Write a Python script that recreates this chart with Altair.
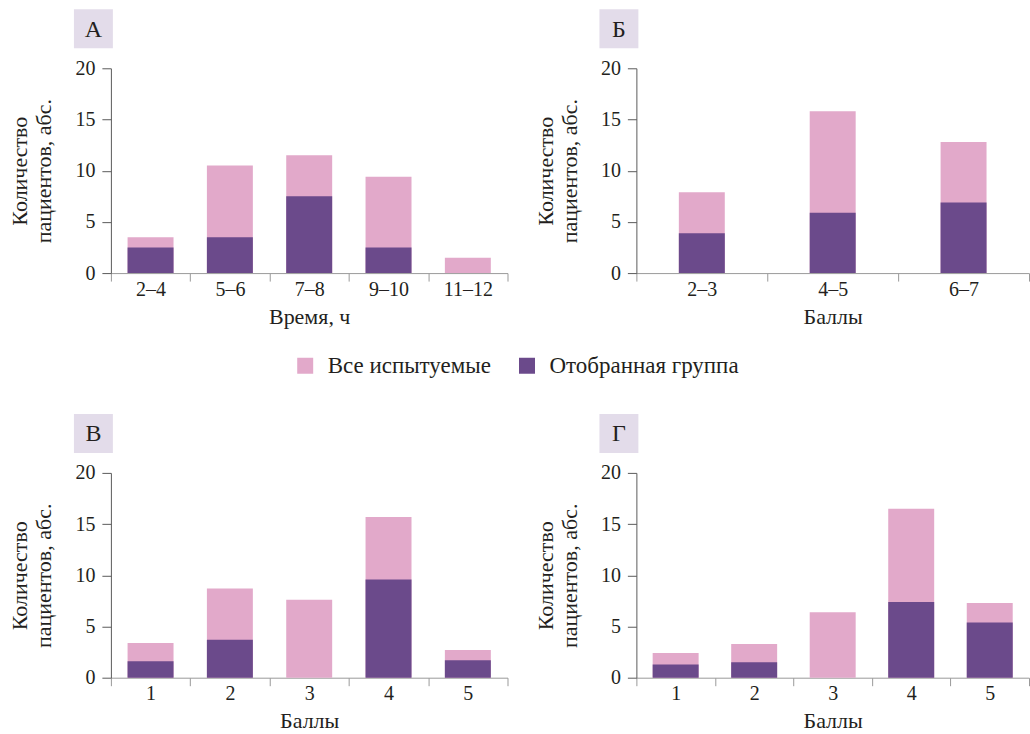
import altair as alt
import pandas as pd

FONT = "Liberation Serif"
TEXT = "#231f20"
PINK = "#e2a9ca"
PURPLE = "#6b4a8b"
BOX = "#e3dcea"

ALL = "Все испытуемые"
SEL = "Отобранная группа"
Y_TITLE = ["Количество", "пациентов, абс."]

# Panel А: time of sleep, hours
a_cats = ["2–4", "5–6", "7–8", "9–10", "11–12"]
a_all = [3.5, 10.5, 11.5, 9.4, 1.5]
a_sel = [2.5, 3.5, 7.5, 2.5, 0]

# Panel Б: score
b_cats = ["2–3", "4–5", "6–7"]
b_all = [7.9, 15.8, 12.8]
b_sel = [3.9, 5.9, 6.9]

# Panel В: score
v_cats = ["1", "2", "3", "4", "5"]
v_all = [3.4, 8.7, 7.6, 15.7, 2.7]
v_sel = [1.6, 3.7, 0, 9.6, 1.7]

# Panel Г: score
g_cats = ["1", "2", "3", "4", "5"]
g_all = [2.4, 3.3, 6.4, 16.5, 7.3]
g_sel = [1.3, 1.5, 0, 7.4, 5.4]


def panel(letter, cats, all_vals, sel_vals, xtitle, width):
    n = len(cats)
    df = pd.DataFrame({
        "cat": cats + cats,
        "value": all_vals + sel_vals,
        "group": [ALL] * n + [SEL] * n,
    })
    x = alt.X(
        "cat:N", sort=cats, title=xtitle,
        scale=alt.Scale(paddingInner=0, paddingOuter=0),
        axis=alt.Axis(
            labelAngle=0, tickBand="extent", tickSize=8, labelPadding=-2,
            domainColor="#9a9a9a", tickColor="#9a9a9a", titlePadding=7,
        ),
    )
    y = alt.Y(
        "value:Q", stack=None, title=Y_TITLE,
        scale=alt.Scale(domain=[0, 20], nice=False),
        axis=alt.Axis(
            values=[0, 5, 10, 15, 20], grid=False, tickSize=9, labelPadding=7,
            domainColor="#5a5a5a", tickColor="#5a5a5a", titlePadding=19,
            titleLineHeight=24,
        ),
    )
    color = alt.Color(
        "group:N", title=None,
        scale=alt.Scale(domain=[ALL, SEL], range=[PINK, PURPLE]),
    )
    bars = alt.Chart(df).mark_bar(size=46).encode(x=x, y=y, color=color)

    lab = pd.DataFrame({"t": [letter]})
    box = alt.Chart(lab).mark_rect(color=BOX).encode(
        x=alt.value(-37), x2=alt.value(2), y=alt.value(-59), y2=alt.value(-20)
    )
    txt = alt.Chart(lab).mark_text(
        font=FONT, fontSize=24, color=TEXT, align="center", baseline="middle"
    ).encode(text="t:N", x=alt.value(-17.5), y=alt.value(-38.5))
    return alt.layer(bars, box, txt).properties(width=width, height=205)


chart = alt.concat(
    panel("А", a_cats, a_all, a_sel, "Время, ч", 397),
    panel("Б", b_cats, b_all, b_sel, "Баллы", 393),
    panel("В", v_cats, v_all, v_sel, "Баллы", 397),
    panel("Г", g_cats, g_all, g_sel, "Баллы", 393),
    columns=2,
    spacing={"row": 200, "column": 129},
    bounds="flush",
).configure(
    font=FONT,
    padding={"left": 9, "top": 9, "right": 0, "bottom": 0},
    background="white",
).configure_view(
    stroke=None
).configure_axis(
    labelFont=FONT, titleFont=FONT, labelFontSize=20, titleFontSize=22,
    labelColor=TEXT, titleColor=TEXT, titleFontWeight="normal",
).configure_legend(
    orient="none", legendX=183, legendY=286, direction="horizontal",
    symbolType="square", symbolSize=256, symbolStrokeWidth=0,
    labelFont=FONT, labelFontSize=23, labelColor=TEXT, labelLimit=0,
    labelOffset=11, columnPadding=24,
)

chart.save("out.html", embed_options={"renderer": "svg", "actions": False})
